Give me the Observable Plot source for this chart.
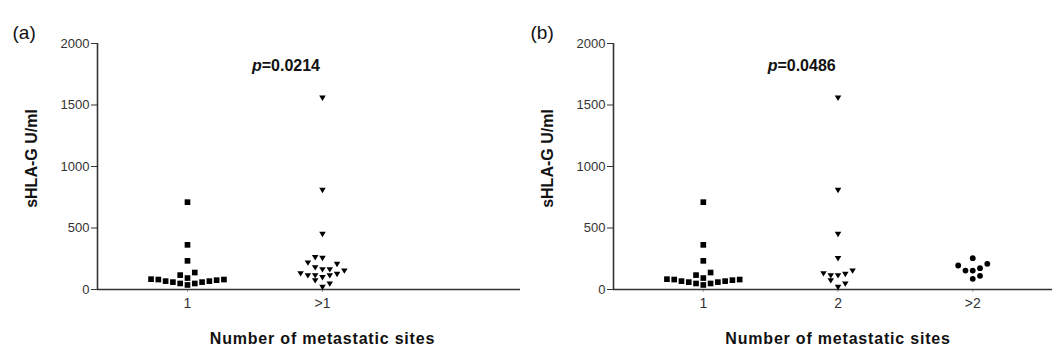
<!DOCTYPE html>
<html><head><meta charset="utf-8">
<script src="https://cdn.jsdelivr.net/npm/d3@7"></script>
<script src="https://cdn.jsdelivr.net/npm/@observablehq/plot@0.6"></script>
<style>
body{margin:0;background:#fff;}
#wrap{display:flex;width:1054px;height:352px;}
</style></head><body><div id="wrap"></div>
<script>
// ---- data ----
const oneSite   = [710, 363, 233, 138, 117, 93, 84, 81, 68, 60, 49, 37, 49, 60, 68, 76, 81];
const moreSitesA = [1555, 805, 447, 258, 252, 214, 203, 176, 160, 160, 127, 111, 111, 95, 111, 122, 149, 70, 44, 16];
const twoSites  = [1555, 805, 447, 250, 127, 111, 111, 122, 149, 70, 44, 16];
const threePlus = [255, 209, 195, 173, 154, 154, 111, 87];
const catsA = ["1", ">1"];
const catsB = ["1", "2", ">2"];
const yTicks = [0, 500, 1000, 1500, 2000];
const pA = "0.0214", pB = "0.0486";
const yLabel = "sHLA-G U/ml";
const xLabel = "Number of metastatic sites";

const FONT = '"Liberation Sans", Arial, Helvetica, sans-serif';
const ROW = 56;      // value band that forms one row of the scatter
const SLOT = 0.054;  // horizontal step between neighbours (in category units)

const triDown = {draw(ctx, size) {
  const s = Math.sqrt(size), w = s * 1.15, h = s * 0.95;
  ctx.moveTo(-w / 2, -h / 2); ctx.lineTo(w / 2, -h / 2); ctx.lineTo(0, h / 2); ctx.closePath();
}};

// GraphPad-like column scatter: rows of close values spread alternately left/right
function scatter(values, k) {
  const sorted = values.slice().sort((a, b) => a - b);
  const rows = [];
  for (const v of sorted) {
    const row = rows[rows.length - 1];
    if (row && v < row.start + ROW) row.items.push(v);
    else rows.push({start: v, items: [v]});
  }
  const out = [];
  rows.forEach((row, r) => {
    const sign = r % 2 === 0 ? 1 : -1;
    row.items.forEach((v, j) => {
      const slot = j === 0 ? 0 : (j % 2 === 1 ? 1 : -1) * Math.ceil(j / 2) * sign;
      out.push({v, x: k + slot * SLOT});
    });
  });
  return out;
}

function panel({tag, cats, groups, p, marginLeft, marginRight, xMax, tagX}) {
  const x0 = 1 / 3;
  const dots = groups.map(g => Plot.dot(scatter(g.values, g.k), {
    x: "x", y: "v", symbol: g.symbol, r: g.r, fill: "#000", stroke: "none"
  }));
  const svg = Plot.plot({
    width: 527, height: 352,
    marginTop: 43, marginBottom: 63, marginLeft, marginRight,
    style: {fontFamily: FONT, fontSize: "13px", color: "#333", background: "white"},
    x: {domain: [x0, xMax]},
    y: {domain: [0, 2000]},
    marks: [
      Plot.axisY({ticks: yTicks, tickFormat: d3.format("d"), tickSize: 6, tickPadding: 2, label: null,
                  color: "#333", fontSize: 13}),
      Plot.axisX({ticks: cats.map((_, i) => i + 1), tickFormat: i => cats[i - 1], tickSize: 3, tickPadding: 6,
                  label: null, stroke: "#aaa", fill: "#333", fontSize: 14}),
      Plot.ruleX([x0], {y1: 0, y2: 2000, stroke: "#333", strokeWidth: 1.6}),
      Plot.ruleY([0], {x1: x0, x2: xMax, stroke: "#333", strokeWidth: 1.6}),
      ...dots,
      Plot.text([tag], {frameAnchor: "top-left", dx: tagX - marginLeft, dy: -18, textAnchor: "start",
                        fontSize: 19, fill: "#111"}),
      Plot.text(["p"], {x: 1.55, y: 1820, textAnchor: "end", fontStyle: "italic", fontWeight: "bold", fontSize: 16, fill: "#111"}),
      Plot.text(["=" + p], {x: 1.55, y: 1820, textAnchor: "start", fontWeight: "bold", fontSize: 16, fill: "#111"}),
      Plot.text([yLabel], {y: 1065, frameAnchor: "left", dx: -66, rotate: -90, textAnchor: "middle",
                           fontWeight: "bold", fontSize: 16, fill: "#111"}),
      Plot.text([xLabel], {x: 2, frameAnchor: "bottom", dy: 54, fontWeight: "bold", fontSize: 16, fill: "#111"})
    ]
  });
  d3.select(svg).selectAll("text").filter(function() { return this.textContent === xLabel; })
    .attr("letter-spacing", "0.8px");
  return svg;
}

const wrap = document.getElementById("wrap");
wrap.appendChild(panel({
  tag: "(a)", cats: catsA, p: pA, marginLeft: 97, marginRight: 7, xMax: 3.467, tagX: 12,
  groups: [
    {values: oneSite, k: 1, symbol: "square", r: 3.2},
    {values: moreSitesA, k: 2, symbol: triDown, r: 3.2}
  ]
}));
wrap.appendChild(panel({
  tag: "(b)", cats: catsB, p: pB, marginLeft: 86, marginRight: 2, xMax: 3.592, tagX: 3,
  groups: [
    {values: oneSite, k: 1, symbol: "square", r: 3.2},
    {values: twoSites, k: 2, symbol: triDown, r: 3.2},
    {values: threePlus, k: 3, symbol: "circle", r: 2.9}
  ]
}));
</script></body></html>
